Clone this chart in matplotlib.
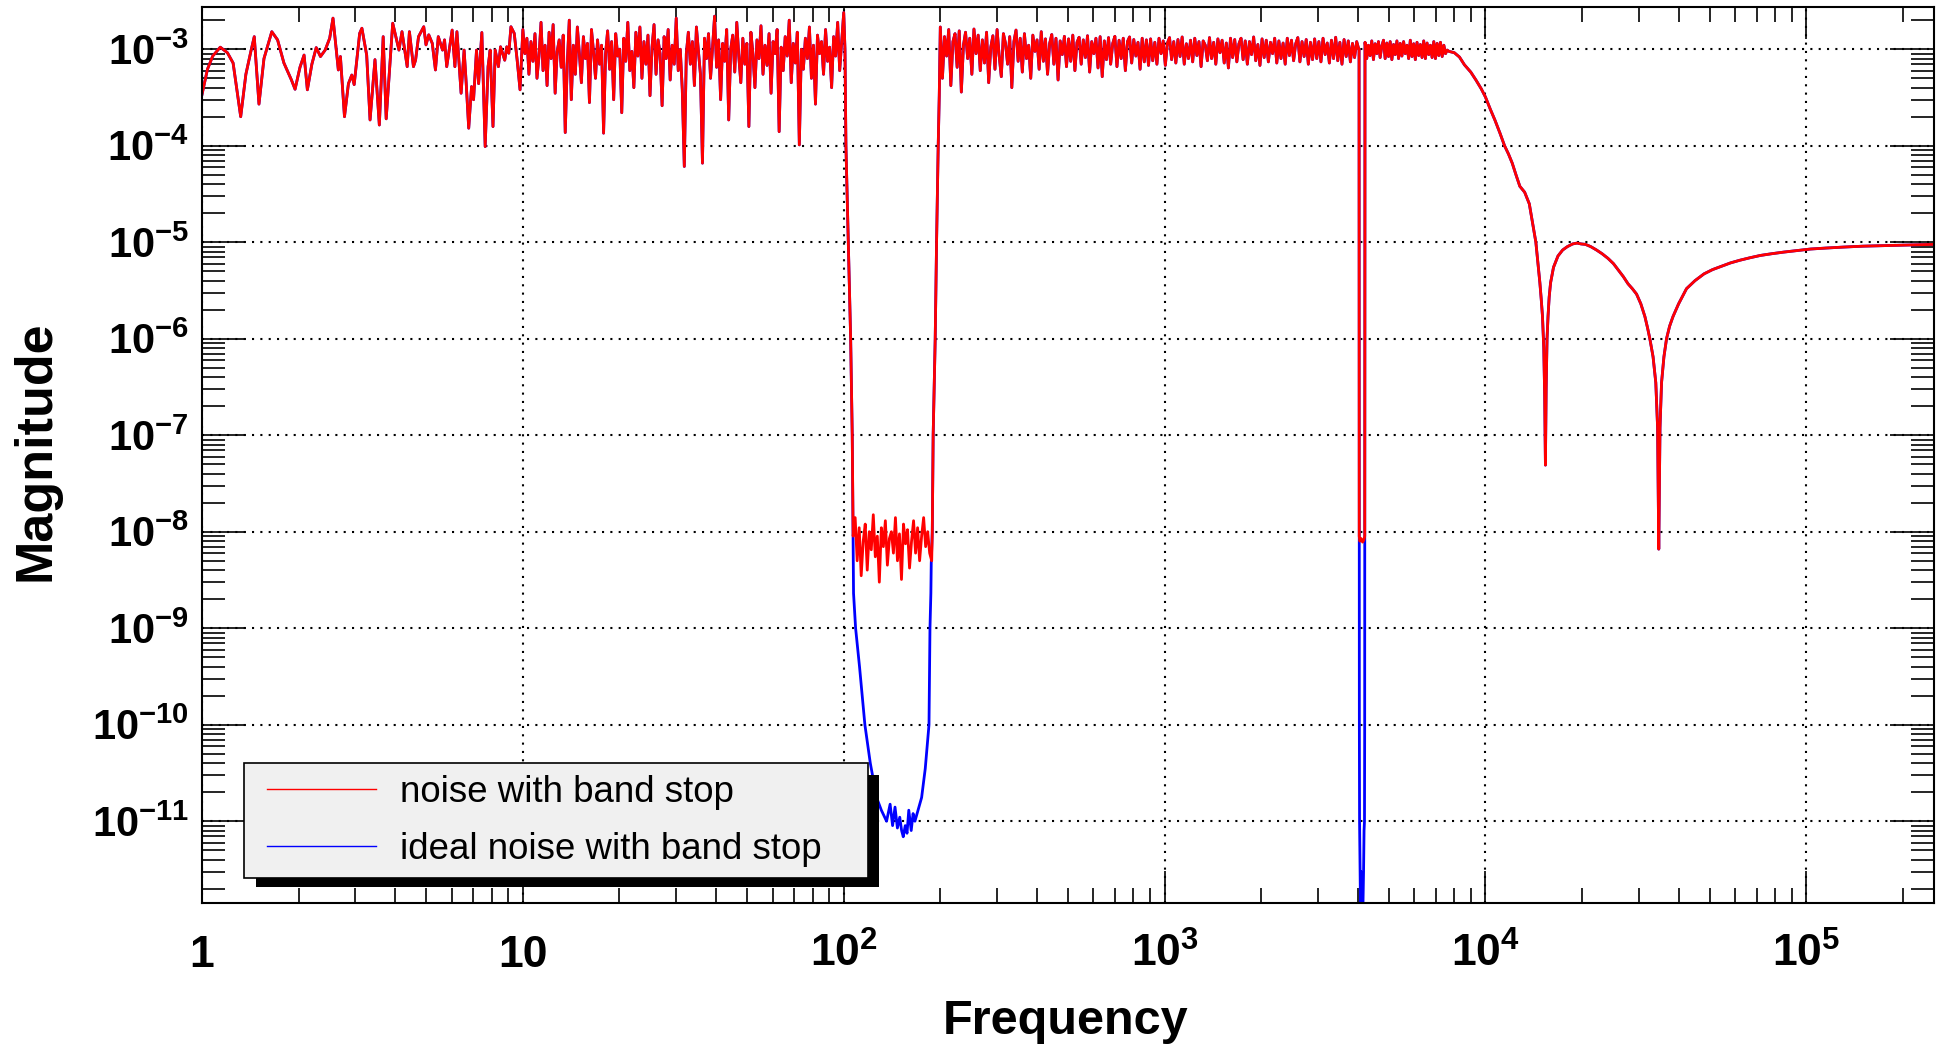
import numpy as np
import matplotlib
matplotlib.use('Agg')
import matplotlib.pyplot as plt
from matplotlib.ticker import LogLocator, NullFormatter
from matplotlib.patches import Rectangle

plt.rcParams['font.family'] = ['Liberation Sans', 'DejaVu Sans']
plt.rcParams['mathtext.fontset'] = 'custom'
plt.rcParams['mathtext.rm'] = 'Liberation Sans:bold'
plt.rcParams['mathtext.default'] = 'rm'

MILLI = 1e-3
NANO = 1e-9

# --- 1-10 Hz, sparse bins (value in units of 1e-3)
low_f = [1.00, 1.04, 1.08, 1.14, 1.20, 1.25, 1.32, 1.37, 1.42, 1.455, 1.505, 1.56, 1.65, 1.72,
         1.80, 1.90, 1.95, 2.02, 2.08, 2.13, 2.20, 2.27, 2.34, 2.42, 2.50, 2.56, 2.66, 2.70,
         2.78, 2.86, 2.93, 2.98, 3.10, 3.15, 3.26, 3.34, 3.46, 3.57, 3.67, 3.75, 3.93, 4.11,
         4.20, 4.36, 4.43, 4.56, 4.63, 4.73, 4.91, 4.99, 5.09, 5.22, 5.34, 5.45, 5.62, 5.70,
         5.79, 6.02, 6.14, 6.23, 6.42, 6.56, 6.66, 6.78, 6.92, 7.02, 7.17, 7.28, 7.45, 7.63,
         7.79, 7.91, 8.07, 8.20, 8.39, 8.52, 8.78, 8.91, 9.04, 9.18, 9.40, 9.60, 9.80]
low_v = [0.34, 0.62, 0.85, 1.05, 0.92, 0.72, 0.20, 0.55, 0.95, 1.35, 0.27, 0.80, 1.52, 1.25,
         0.72, 0.48, 0.385, 0.65, 0.87, 0.38, 0.70, 1.04, 0.84, 0.98, 1.30, 2.10, 0.61, 0.84,
         0.20, 0.44, 0.54, 0.43, 1.46, 1.65, 0.87, 0.185, 0.78, 0.164, 1.35, 0.19, 1.86, 0.98,
         1.52, 0.66, 1.52, 0.66, 0.77, 1.35, 1.71, 1.11, 1.41, 1.15, 0.61, 1.35, 0.98, 1.25,
         0.66, 1.58, 0.66, 1.52, 0.35, 0.98, 0.44, 0.152, 0.41, 0.30, 0.98, 0.44, 1.49, 0.098,
         0.66, 0.98, 0.158, 0.98, 0.66, 1.06, 0.77, 1.06, 0.91, 1.71, 1.46, 0.77, 0.38]

# --- 10-100 Hz noise (units of 1e-3), bins log-spaced between the two edges
mid_edges = (10.0, 100.0)
mid_v = [1.6, 0.9, 1.3, 0.55, 1.2, 0.75, 1.45, 0.5, 0.85, 1.9, 0.6, 1.1, 0.42, 1.5, 0.8, 1.8, 0.35, 0.95, 1.25, 0.65,
         1.4, 0.137, 0.7, 2.0, 0.3, 1.1, 0.55, 1.7, 0.9, 0.45, 1.35, 0.8, 1.15, 0.28, 1.6, 0.95, 0.5, 1.25, 0.7, 1.1,
         0.135, 0.9, 1.55, 0.62, 1.2, 0.3, 1.45, 0.85, 1.0, 0.22, 1.3, 0.75, 1.9, 0.6, 0.95, 0.4, 1.5, 0.85, 1.7, 0.5,
         1.2, 0.7, 1.4, 0.33, 1.05, 1.8, 0.55, 1.25, 0.9, 0.26, 1.35, 0.8, 1.6, 0.48, 1.1, 0.7, 2.1, 0.6, 1.0, 0.38,
         0.061, 0.9, 1.5, 0.7, 1.2, 0.42, 1.7, 0.95, 0.55, 0.066, 1.3, 0.8, 1.45, 0.5, 1.05, 2.2, 0.65, 1.25, 0.3, 1.15,
         0.75, 1.6, 0.185, 1.0, 1.4, 0.58, 1.9, 0.85, 0.45, 1.3, 0.7, 1.15, 0.158, 1.5, 0.9, 0.4, 1.25, 0.8, 1.75, 0.55,
         1.1, 0.68, 1.45, 0.35, 1.2, 0.9, 1.6, 0.14, 1.05, 0.6, 1.35, 0.85, 2.0, 0.45, 1.15, 0.72, 1.5, 0.102, 1.0, 0.62,
         1.3, 0.8, 1.7, 0.5, 1.1, 0.27, 1.4, 0.9, 1.2, 0.55, 1.6, 0.75, 1.05, 0.4, 1.35, 0.85, 1.9, 0.6, 1.2, 2.4]

# --- band stop 100-200 Hz
drop_f = [100.9, 101.6, 103.3, 105.1, 106.3]
drop_v = [1.0e-3, 1e-4, 1e-5, 1e-6, 1e-7]
floor_edges = (107.0, 188.0)
floor_v = [9, 14, 5, 11, 3.5, 8, 12, 4, 10, 6.5, 15, 5.5, 9, 3, 11, 7, 13, 4.5, 8.5, 10,
           6, 14, 5, 9.5, 3.2, 12, 7.5, 10.5, 4.2, 8, 13, 6, 11, 5, 9, 14, 7, 10, 6, 5]   # units of 1e-9
rise_f = [188.8, 190.0, 192.8, 194.7, 197.0, 198.5]
rise_v = [1e-8, 1e-7, 1e-6, 1e-5, 1e-4, 3.3e-4]
ideal_stop_f = [106.3, 107.3, 108.9, 112.0, 116.4, 121.0, 126.6, 131.0, 136.0, 139.5, 142.0, 144.5,
                147.0, 149.5, 151.5, 153.3, 155.5, 157.5, 159.5, 162.3, 164.5, 166.7, 170.5, 174.9,
                179.5, 184.4, 185.7, 186.9, 187.4, 188.8]
ideal_stop_v = [1e-7, 2.3e-9, 1e-9, 4e-10, 1e-10, 4e-11, 1.76e-11, 1.3e-11, 1.0e-11, 1.5e-11, 0.9e-11,
                1.4e-11, 0.85e-11, 1.1e-11, 0.8e-11, 0.69e-11, 0.9e-11, 0.75e-11, 1.3e-11, 0.8e-11,
                1.2e-11, 1.0e-11, 1.3e-11, 1.76e-11, 3.5e-11, 1e-10, 1e-9, 2.3e-9, 4.7e-9, 1e-8]

# --- 200-4030 Hz noise (units of 1e-3)
pass_edges = (200.0, 4030.0)
pass_v = [1.7, 0.5, 1.35, 0.85, 1.6, 0.42, 1.2, 1.45, 0.65, 1.55, 0.36, 1.1, 1.5, 0.8, 1.3, 0.55, 1.62, 0.9, 1.4, 0.6,
          1.25, 0.72, 1.5, 0.45, 1.05, 1.38, 0.62, 1.6, 0.85, 0.52, 1.45, 1.15, 0.7, 1.35, 0.4, 1.2, 1.58, 0.75, 1.3, 0.58,
          1.45, 0.8, 1.1, 0.5, 1.4, 0.95, 1.25, 0.62, 1.52, 0.75, 1.28, 0.55, 1.15, 1.42, 0.7, 1.3, 0.48, 1.22, 0.88, 1.36,
          0.66, 1.28, 0.75, 1.4, 0.6, 1.18, 1.33, 0.7, 1.25, 0.82, 1.38, 0.58, 1.2, 0.9, 1.3, 0.64, 1.35, 0.52, 1.22, 0.78,
          1.32, 0.7, 1.15, 1.36, 0.66, 1.24, 0.8, 1.3, 0.6, 1.2, 1.34, 0.72, 1.26, 0.85, 1.18, 0.62, 1.3, 0.74, 1.25, 0.68,
          1.28, 0.76, 1.18, 0.7, 1.3, 0.9, 1.22, 0.68, 1.16, 1.32, 0.78, 1.2, 0.72, 1.26, 0.84, 1.34, 0.7, 1.14, 0.8, 1.24,
          0.74, 1.3, 0.86, 1.2, 0.66, 1.22, 1.1, 0.76, 1.32, 0.8, 1.18, 0.7, 1.28, 0.92, 1.24, 0.72, 1.16, 0.64, 1.3, 0.82,
          1.26, 0.74, 1.14, 1.3, 0.78, 1.22, 0.7, 1.2, 0.88, 1.34, 0.76, 1.12, 0.68, 1.28, 0.82, 1.24, 0.74, 1.18, 0.9, 1.3,
          0.72, 1.22, 0.8, 1.16, 0.7, 1.3, 0.86, 1.24, 0.76, 1.14, 1.32, 0.74, 1.2, 0.84, 1.26, 0.7, 1.18, 0.78, 1.28, 0.8,
          1.2, 0.74, 1.3, 0.88, 1.16, 0.72, 1.24, 0.8, 1.33, 0.76, 1.18, 0.7, 1.26, 0.84, 1.22, 0.74, 1.15, 0.82, 1.2, 1.0]

# --- narrow notch near 4.1 kHz
notch_f = [4038, 4042, 4060, 4100, 4140, 4180, 4206, 4212]
notch_v = [1.0e-3, 9e-9, 8e-9, 8.5e-9, 7.8e-9, 8.2e-9, 9e-9, 1.0e-3]
ideal_notch_f = [4038, 4042, 4046, 4052, 4065, 4080, 4095, 4110, 4125, 4140, 4155, 4170, 4185, 4198,
                 4204, 4206, 4212]
ideal_notch_v = [1.0e-3, 9e-9, 1e-10, 1e-11, 4e-12, 1.2e-12, 3e-12, 8e-13, 2e-12, 6e-13, 1.5e-12,
                 3e-12, 8e-12, 1e-11, 1e-10, 9e-9, 1.0e-3]

# --- 4.2-7.6 kHz flat noise (units of 1e-3)
flat_edges = (4215.0, 7600.0)
flat_v = [1.18, 0.8, 1.1, 0.86, 1.22, 0.78, 1.14, 0.9, 1.2, 0.82, 1.08, 1.24, 0.8, 1.16, 0.84, 1.2, 0.78,
          1.12, 0.88, 1.22, 0.8, 1.15, 0.85, 1.2, 0.9, 1.1, 0.8, 1.24, 0.84, 1.14, 0.78, 1.18, 0.86, 1.12,
          0.82, 1.22, 0.8, 1.16, 0.88, 1.1, 0.82, 1.2, 0.8, 1.15, 0.86, 1.18, 0.84, 1.1, 0.9, 0.98]

# --- roll-off, two zeros and high-frequency tail
tail_f = [7700, 8000, 8300, 8600, 9000, 9340, 9700, 10000, 10350, 10700, 11100, 11470, 11800, 12120,
          12450, 12800, 13250, 13700, 14170, 14360, 14580, 14780, 14920, 15060, 15200, 15300, 15380,
          15460, 15560, 15670, 15800, 15960, 16300, 16830, 17400, 18000, 18700, 19300, 19870, 20500,
          21300, 22200, 23100, 24100, 25060, 26000, 26900, 27840, 28700, 29580, 30500, 31400, 32000,
          32540, 33300, 33960, 34400, 34690, 35000, 35390, 36000, 36680, 37500, 38430, 40000, 42330,
          45000, 48000, 51000, 54100, 58000, 62000, 66700, 72000, 78000, 85000, 93700, 103000, 115000,
          130000, 150000, 170000, 195000, 220000, 250000]
tail_v = [9.5e-4, 9.2e-4, 8.3e-4, 6.9e-4, 5.8e-4, 4.8e-4, 3.9e-4, 3.2e-4, 2.4e-4, 1.85e-4, 1.35e-4,
          1.0e-4, 8.2e-5, 6.6e-5, 5.0e-5, 3.8e-5, 3.3e-5, 2.5e-5, 1.3e-5, 1.0e-5, 6.0e-6, 3.8e-6,
          2.6e-6, 1.7e-6, 8e-7, 2.5e-7, 4.9e-8, 3e-7, 1.0e-6, 1.7e-6, 2.7e-6, 3.8e-6, 5.5e-6, 7.2e-6,
          8.3e-6, 9.0e-6, 9.6e-6, 9.8e-6, 9.6e-6, 9.5e-6, 9.0e-6, 8.3e-6, 7.6e-6, 6.8e-6, 6.0e-6,
          5.1e-6, 4.4e-6, 3.7e-6, 3.3e-6, 2.9e-6, 2.3e-6, 1.7e-6, 1.3e-6, 1.0e-6, 6.5e-7, 3.5e-7,
          1.2e-7, 6.6e-9, 1.2e-7, 3.5e-7, 6.5e-7, 1.0e-6, 1.35e-6, 1.7e-6, 2.3e-6, 3.3e-6, 4.0e-6,
          4.7e-6, 5.2e-6, 5.6e-6, 6.1e-6, 6.5e-6, 6.9e-6, 7.3e-6, 7.6e-6, 7.9e-6, 8.2e-6, 8.5e-6,
          8.7e-6, 8.9e-6, 9.1e-6, 9.2e-6, 9.3e-6, 9.4e-6, 9.5e-6]


def bins(edges, vals):
    return np.geomspace(edges[0], edges[1], len(vals))


mid_f = bins(mid_edges, mid_v)
floor_f = bins(floor_edges, floor_v)
pass_f = bins(pass_edges, pass_v)
flat_f = bins(flat_edges, flat_v)

head_f = np.concatenate([low_f, mid_f, drop_f])
head_v = np.concatenate([np.array(low_v) * MILLI, np.array(mid_v) * MILLI, drop_v])
body_f = np.concatenate([rise_f, pass_f])
body_v = np.concatenate([rise_v, np.array(pass_v) * MILLI])
end_f = np.concatenate([flat_f, tail_f])
end_v = np.concatenate([np.array(flat_v) * MILLI, tail_v])

red_f = np.concatenate([head_f, floor_f, body_f, notch_f, end_f])
red_v = np.concatenate([head_v, np.array(floor_v) * NANO, body_v, notch_v, end_v])
blue_f = np.concatenate([head_f, ideal_stop_f, body_f, ideal_notch_f, end_f])
blue_v = np.concatenate([head_v, ideal_stop_v, body_v, ideal_notch_v, end_v])

xticks = [1, 10, 1e2, 1e3, 1e4, 1e5]
xlabels = ['1', '10', '$10^{2}$', '$10^{3}$', '$10^{4}$', '$10^{5}$']
yticks = [1e-11, 1e-10, 1e-9, 1e-8, 1e-7, 1e-6, 1e-5, 1e-4, 1e-3]
ylabels = ['$10^{-11}$', '$10^{-10}$', '$10^{-9}$', '$10^{-8}$', '$10^{-7}$', '$10^{-6}$',
           '$10^{-5}$', '$10^{-4}$', '$10^{-3}$']

fig = plt.figure(figsize=(19.48, 10.5), dpi=100)
ax = fig.add_axes([0.1037, 0.14, 0.8891, 0.8529])

l_blue, = ax.plot(blue_f, blue_v, color='#0000ff', lw=2.0)
l_red, = ax.plot(red_f, red_v, color='#ff0000', lw=2.0)

ax.set_xscale('log')
ax.set_yscale('log')
ax.set_xlim(1, 2.5e5)
ax.set_ylim(1.42e-12, 2.71e-3)

ax.set_xticks(xticks, xlabels, fontsize=32, fontweight='bold', va='baseline')
ax.set_yticks(yticks, ylabels, fontsize=30, fontweight='bold')
ax.xaxis.set_minor_locator(LogLocator(base=10, subs=np.arange(2, 10), numticks=100))
ax.yaxis.set_minor_locator(LogLocator(base=10, subs=np.arange(2, 10), numticks=300))
ax.xaxis.set_minor_formatter(NullFormatter())
ax.yaxis.set_minor_formatter(NullFormatter())

ax.tick_params(which='both', direction='in', top=True, right=True, color='black', width=1.2)
ax.tick_params(axis='y', which='major', length=31.7, pad=9.4)
ax.tick_params(axis='y', which='minor', length=16.6)
ax.tick_params(axis='x', which='major', length=23, pad=46)
ax.tick_params(axis='x', which='minor', length=11)
for s in ax.spines.values():
    s.set_linewidth(1.5)

ax.grid(True, which='major', color='black', linestyle=(0, (1, 3)), linewidth=1.5)

ax.set_xlabel('Frequency', fontsize=35, fontweight='bold', va='baseline')
ax.xaxis.set_label_coords(0.4988, -0.1463)
ax.set_ylabel('Magnitude', fontsize=37.5, fontweight='bold', va='baseline')
ax.yaxis.set_label_coords(-0.0883, 0.505)

# legend box with ROOT-like hard shadow
fig.add_artist(Rectangle((0.1314, 0.1552), 0.3198, 0.1067, transform=fig.transFigure,
                         facecolor='black', edgecolor='none', zorder=3))
fig.add_artist(Rectangle((0.1253, 0.1638), 0.3203, 0.1095, transform=fig.transFigure,
                         facecolor='#f0f0f0', edgecolor='black', lw=1.2, zorder=4))
leg = fig.legend([l_red, l_blue], ['noise with band stop', 'ideal noise with band stop'],
                 loc='upper left', bbox_to_anchor=(0.1373, 0.2619), frameon=False, fontsize=26.4,
                 handlelength=2.95, handletextpad=0.67, labelspacing=0.6, borderpad=0,
                 borderaxespad=0)
leg.set_zorder(5)
for h in leg.get_lines():
    h.set_linewidth(1.0)

fig.savefig('out.png', dpi=100)
